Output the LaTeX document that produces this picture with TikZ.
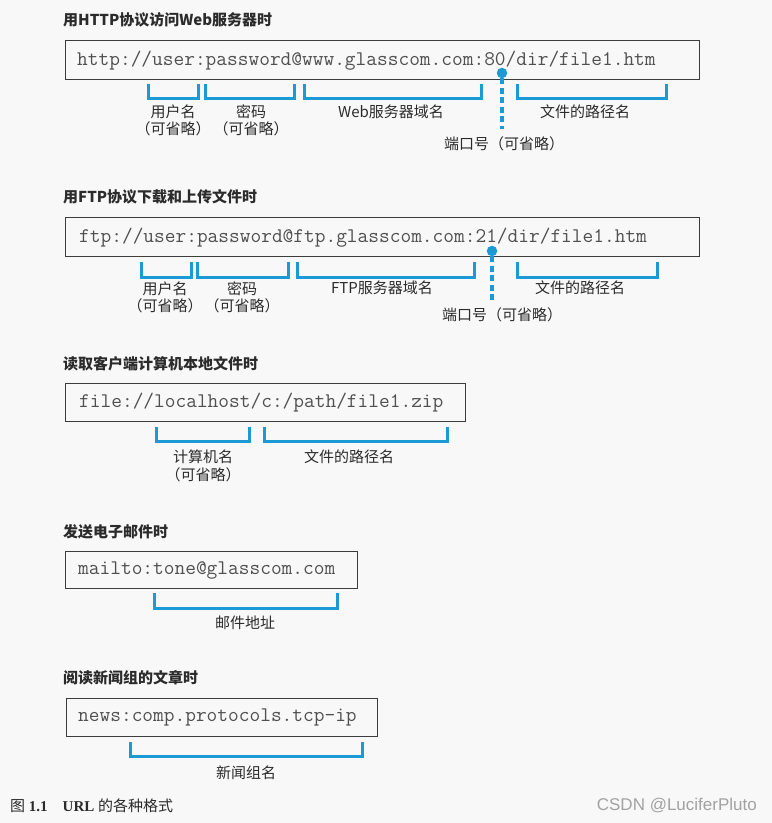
\documentclass[tikz,border=0pt]{standalone}
\usepackage{fontspec}
\setmainfont{Liberation Serif}
\newfontfamily\cjk{Noto Sans CJK SC}
\newfontfamily\wmfont{Liberation Sans}
\usepackage{tikz}
\usetikzlibrary{
  positioning
}
\definecolor{ink}{HTML}{2B2B2B}
\definecolor{paper}{HTML}{F8F8F8}
\definecolor{frame}{HTML}{3C3C3C}
\definecolor{urlgrey}{HTML}{505050}
\definecolor{mark}{HTML}{1B9AD6}
\definecolor{wmgrey}{HTML}{A2A2A2}
\tikzset{
  sectiontitle/.style={
    anchor=west,
    inner sep=0pt,
    text=ink,
    font=\cjk\bfseries\fontsize{15}{18}\selectfont
  },
  urlbox/.style={
    draw=frame,
    line width=1.4pt,
    anchor=north west,
    inner sep=0pt
  },
  urltext/.style={
    inner sep=0pt,
    text=urlgrey,
    font=\ttfamily\fontsize{20.8}{24}\selectfont
  },
  bracket/.style={
    draw=mark,
    line width=3pt
  },
  partlabel/.style={
    inner sep=0pt,
    text=ink,
    align=center,
    font=\cjk\fontsize{15}{17.5}\selectfont
  },
  portdot/.style={
    circle,
    fill=mark,
    inner sep=0pt,
    minimum size=10.5pt
  },
  portline/.style={
    draw=mark,
    line width=3.2pt,
    dash pattern=on 6pt off 3.5pt
  }
}

\begin{document}
\begin{tikzpicture}[x=1pt,y=-1pt]
  \useasboundingbox (0,0) rectangle (772,823);
  \fill[paper] (0,0) rectangle (772,823);

  % HTTP.
  \node[sectiontitle] (httptitle) at (63,20) {用HTTP协议访问Web服务器时};
  \node[urlbox, minimum width=634pt, minimum height=39pt]
    (httpbox) at (65,40) {};
  \node[urltext, anchor=west, right=12pt of httpbox.west]
    (httpurl) {http://user:password@www.glasscom.com:80/dir/file1.htm};
  \foreach \a/\b in {148/198, 205/294, 304/481, 517/666}{
    \draw[bracket] (\a,84) |- (\b,98) -- (\b,84);
  }
  \node[portdot] (httpport) at (502,73) {};
  \coordinate (httpportend) at (502,129);
  \draw[portline] (httpport.south) -- (httpportend);
  \node[partlabel] (httpuser) at (173,120.5) {用户名\\（可省略）};
  \node[partlabel] (httppass) at (251,120.5) {密码\\（可省略）};
  \node[partlabel] (httphost) at (391,112) {Web服务器域名};
  \node[partlabel] (httppath) at (585,112) {文件的路径名};
  \node[partlabel] (httpportlabel) at (504,144) {端口号（可省略）};

  % FTP.
  \node[sectiontitle] (ftptitle) at (63,197) {用FTP协议下载和上传文件时};
  \node[urlbox, minimum width=634pt, minimum height=39pt]
    (ftpbox) at (65,217) {};
  \node[urltext, anchor=west, right=14pt of ftpbox.west]
    (ftpurl) {ftp://user:password@ftp.glasscom.com:21/dir/file1.htm};
  \foreach \a/\b in {141/191, 197/288, 297/474, 517/657}{
    \draw[bracket] (\a,262) |- (\b,277) -- (\b,262);
  }
  \node[portdot] (ftpport) at (492,251) {};
  \coordinate (ftpportend) at (492,301);
  \draw[portline] (ftpport.south) -- (ftpportend);
  \node[partlabel] (ftpuser) at (165,297.5) {用户名\\（可省略）};
  \node[partlabel] (ftppass) at (242,297.5) {密码\\（可省略）};
  \node[partlabel] (ftphost) at (382,288) {FTP服务器域名};
  \node[partlabel] (ftppath) at (580,288) {文件的路径名};
  \node[partlabel] (ftpportlabel) at (502,315) {端口号（可省略）};

  % Local file.
  \node[sectiontitle] (filetitle) at (63,364) {读取客户端计算机本地文件时};
  \node[urlbox, minimum width=400pt, minimum height=38pt]
    (filebox) at (65,383) {};
  \node[urltext, anchor=west, right=14pt of filebox.west]
    (fileurl) {file://localhost/c:/path/file1.zip};
  \foreach \a/\b in {156/249, 264/447}{
    \draw[bracket] (\a,427) |- (\b,441) -- (\b,427);
  }
  \node[partlabel] (filehost) at (203,466) {计算机名\\（可省略）};
  \node[partlabel] (filepath) at (349,457) {文件的路径名};

  % Mail.
  \node[sectiontitle] (mailtitle) at (63,532) {发送电子邮件时};
  \node[urlbox, minimum width=292pt, minimum height=37pt]
    (mailbox) at (65,551) {};
  \node[urltext, anchor=west, right=13pt of mailbox.west]
    (mailurl) {mailto:tone@glasscom.com};
  \draw[bracket] (154,593) |- (337,608) -- (337,593);
  \node[partlabel] (mailaddr) at (245,623) {邮件地址};

  % News.
  \node[sectiontitle] (newstitle) at (63,678) {阅读新闻组的文章时};
  \node[urlbox, minimum width=311pt, minimum height=38pt]
    (newsbox) at (66,698) {};
  \node[urltext, anchor=west, right=12pt of newsbox.west]
    (newsurl) {news:comp.protocols.tcp-ip};
  \draw[bracket] (130,742) |- (362,756) -- (362,742);
  \node[partlabel] (newsgroup) at (246,773) {新闻组名};

  % Caption and mark.
  \node[anchor=west, inner sep=0pt, text=ink, font=\fontsize{15}{18}\selectfont]
    (caption) at (10,806) {{\cjk 图} \textbf{1.1}\quad\textbf{URL} {\cjk 的各种格式}};
  \node[anchor=east, inner sep=0pt, text=wmgrey, font=\wmfont\fontsize{17}{20}\selectfont]
    (watermark) at (757,806) {CSDN @LuciferPluto};
\end{tikzpicture}
\end{document}
